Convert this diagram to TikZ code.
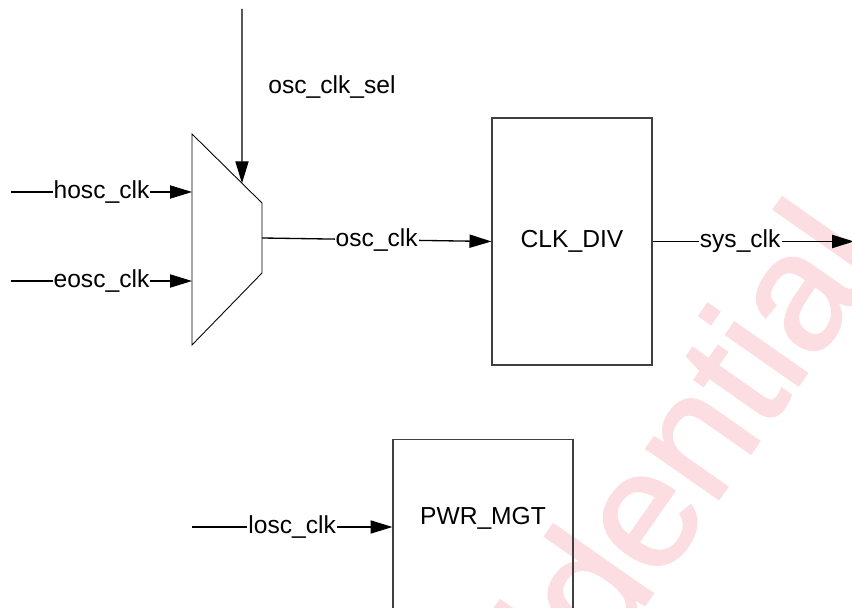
\documentclass[tikz,border=0pt]{standalone}
\usepackage{fontspec}
\setmainfont{Liberation Sans}
\newfontfamily\wmfont[FakeBold=1.4]{Liberation Sans}
\usepackage{tikz}
\usetikzlibrary{arrows.meta,positioning,calc}

\definecolor{wmark}{RGB}{252,222,226}
\newcommand\sigfont{\fontsize{14}{16}\selectfont}

\begin{document}
\begin{tikzpicture}[
  block/.style={rectangle, draw=black!75, line width=0.6pt, minimum width=3.2cm, minimum height=4.94cm, font=\sigfont},
  arrow/.style={-{Triangle[length=12.5pt,width=7.5pt]}, line width=0.75pt},
  sig/.style={fill=white, inner sep=0.6pt, font=\sigfont}
]
\useasboundingbox (0,0) rectangle (17.04,12.16);

% Watermark
\begin{scope}
  \clip (0,0) rectangle (17.04,12.16);
  \node[rotate=55, anchor=base west, inner sep=0, text=wmark, font=\wmfont\fontsize{95}{110}\selectfont] (wm) at (7.64,-7.44) {Confidential};
\end{scope}

% Clock mux
\draw[line width=0.5pt] (3.84,9.48) coordinate (mux-nw) -- (5.24,8.10) coordinate (mux-ne)
  -- (5.24,6.70) coordinate (mux-se) -- (3.84,5.26) coordinate (mux-sw) -- cycle;
\coordinate (mux-out) at ($(mux-ne)!0.5!(mux-se)$);
\coordinate (mux-sel) at ($(mux-nw)!0.714!(mux-ne)$);

% Blocks
\node[block] (div) at (11.44,7.33) {CLK\_DIV};
\node[block, minimum width=3.6cm, anchor=north] (pwr) at (9.66,3.38) {};
\node[font=\sigfont] (pwr-lbl) at (9.66,1.80) {PWR\_MGT};

% Mux inputs
\coordinate (hosc) at (0.22,8.32);
\coordinate (eosc) at (0.22,6.54);
\draw[arrow] (hosc) -- (hosc -| mux-nw) node[midway, sig] {hosc\_clk};
\draw[arrow] (eosc) -- (eosc -| mux-nw) node[midway, sig] {eosc\_clk};

% Select line
\coordinate (sel-top) at (4.84,11.98);
\draw[arrow] (sel-top) -- (mux-sel);
\node[anchor=west, inner sep=0, font=\sigfont] (sel-lbl) at (5.36,10.42) {osc\_clk\_sel};

% Clock path
\draw[arrow] (mux-out) -- (div.west) node[midway, sig] {osc\_clk};
\coordinate (sys-out) at (17.08,7.33);
\draw[arrow] (div.east) -- (sys-out) node[pos=0.435, sig] {sys\_clk};

% Low-speed clock
\coordinate (losc) at (3.84,1.62);
\draw[arrow] (losc) -- (losc -| pwr.west) node[midway, sig] {losc\_clk};

\end{tikzpicture}
\end{document}
